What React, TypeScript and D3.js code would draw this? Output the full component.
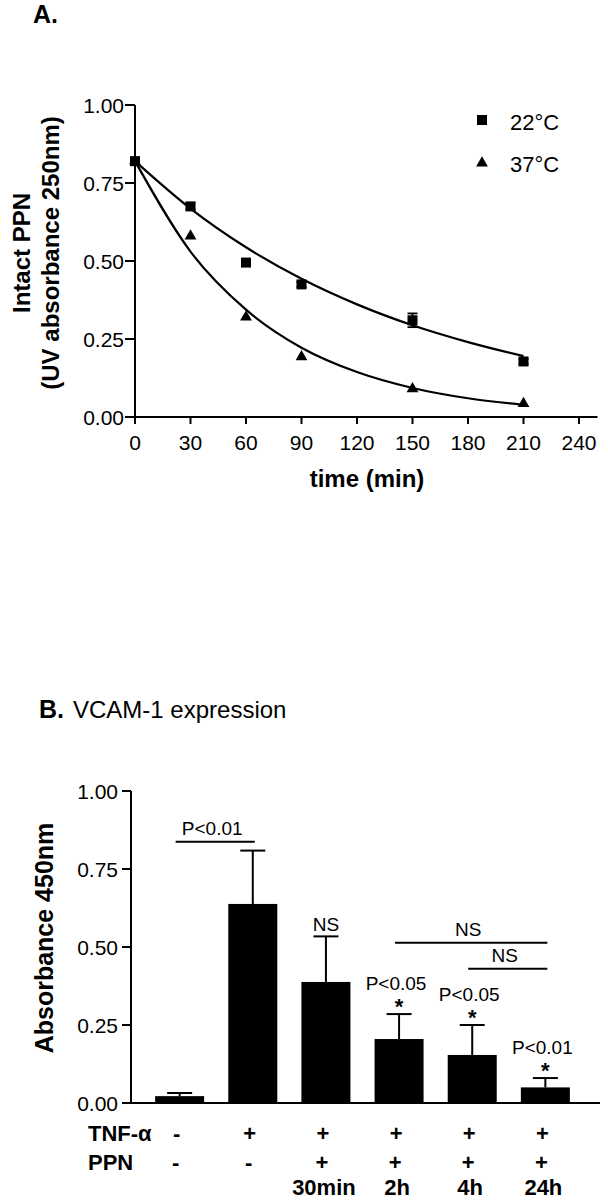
import React from 'react';
import * as d3 from 'd3';

// ---------- Panel A data ----------
const timeMin = [0, 30, 60, 90, 150, 210];
const intact22 = [0.82, 0.675, 0.495, 0.425, 0.31, 0.178];
const intact37 = [0.82, 0.58, 0.32, 0.193, 0.09, 0.043];
const err22 = [0.008, 0.01, 0.008, 0.008, 0.022, 0.008];
const err37 = [0.008, 0.008, 0.008, 0.008, 0.008, 0.006];
const fitTime = [0, 30, 60, 90, 120, 150, 180, 210];
const fit22 = [0.82, 0.668, 0.544, 0.443, 0.361, 0.294, 0.24, 0.195];
const fit37 = [0.82, 0.53, 0.344, 0.222, 0.144, 0.093, 0.06, 0.039];
const xTicksA = [0, 30, 60, 90, 120, 150, 180, 210, 240];
const yTicks = [0, 0.25, 0.5, 0.75, 1.0];
const legendLabels = ['22°C', '37°C'];

// ---------- Panel B data ----------
const groups = ['ctrl', 'TNF', '30min', '2h', '4h', '24h'];
const vcam = [0.022, 0.638, 0.388, 0.205, 0.154, 0.05];
const vcamErr = [0.01, 0.171, 0.146, 0.08, 0.096, 0.03];
const tnfRow = ['-', '+', '+', '+', '+', '+'];
const ppnRow = ['-', '-', '+', '+', '+', '+'];
const timeRow = ['', '', '30min', '2h', '4h', '24h'];
const barSig = ['', '', 'NS', 'P<0.05', 'P<0.05', 'P<0.01'];
const barStar = [false, false, false, true, true, true];
const brackets = [
  { from: 0, to: 1, y: 0.8375, label: 'P<0.01' },
  { from: 3, to: 5, y: 0.514, label: 'NS' },
  { from: 4, to: 5, y: 0.43, label: 'NS' },
];

const FONT = '"Liberation Sans", Arial, Helvetica, sans-serif';

export default function App() {
  // Panel A scales
  const xA = d3.scaleLinear().domain([0, 250]).range([135, 597.5]);
  const yA = d3.scaleLinear().domain([0, 1]).range([417, 105]);
  const lineA = d3
    .line<number>()
    .x((_, i) => xA(fitTime[i]))
    .y((d) => yA(d))
    .curve(d3.curveMonotoneX);

  // Panel B scales
  const xB = d3
    .scaleBand<string>()
    .domain(groups)
    .range([131, 594])
    .paddingInner(0.33)
    .paddingOuter(0.33);
  const yB = d3.scaleLinear().domain([0, 1]).range([1103, 791]);
  const bw = xB.bandwidth();
  const cx = (i: number) => (xB(groups[i]) as number) + bw / 2;

  const sq = 10;
  const tri = d3.symbol().type(d3.symbolTriangle).size(60)() as string;

  return (
    <svg
      width={608}
      height={1200}
      style={{ position: 'absolute', left: 0, top: 0, background: '#fff' }}
      fontFamily={FONT}
    >
      <rect x={0} y={0} width={608} height={1200} fill="#fff" />
      {/* ================= Panel A ================= */}
      <text x={33} y={23} fontSize={25} fontWeight="bold">A.</text>

      {/* y label */}
      <text
        transform="translate(30,253) rotate(-90)"
        textAnchor="middle"
        fontSize={24}
        fontWeight="bold"
      >
        Intact PPN
      </text>
      <text
        transform="translate(59,253) rotate(-90)"
        textAnchor="middle"
        fontSize={24}
        fontWeight="bold"
      >
        (UV absorbance 250nm)
      </text>

      {/* axes */}
      <line x1={xA(0)} x2={xA(0)} y1={yA(0)} y2={yA(1)} stroke="#000" strokeWidth={2} />
      <line x1={xA(0)} x2={xA(250)} y1={yA(0)} y2={yA(0)} stroke="#000" strokeWidth={2} />
      {yTicks.map((t) => (
        <g key={'ya' + t}>
          <line x1={xA(0) - 10} x2={xA(0)} y1={yA(t)} y2={yA(t)} stroke="#000" strokeWidth={2} />
          <text x={124} y={yA(t)} dy="0.36em" textAnchor="end" fontSize={21}>
            {t.toFixed(2)}
          </text>
        </g>
      ))}
      {xTicksA.map((t) => (
        <g key={'xa' + t}>
          <line x1={xA(t)} x2={xA(t)} y1={yA(0)} y2={yA(0) + 7} stroke="#000" strokeWidth={2} />
          <text x={xA(t)} y={450} textAnchor="middle" fontSize={21}>
            {t}
          </text>
        </g>
      ))}
      <text x={367} y={487} textAnchor="middle" fontSize={24} fontWeight="bold">
        time (min)
      </text>

      {/* fit curves */}
      <path d={lineA(fit22) as string} fill="none" stroke="#000" strokeWidth={2.2} />
      <path d={lineA(fit37) as string} fill="none" stroke="#000" strokeWidth={2.2} />

      {/* error bars */}
      {timeMin.map((t, i) => (
        <g key={'e22' + i} stroke="#000" strokeWidth={1.8}>
          <line x1={xA(t)} x2={xA(t)} y1={yA(intact22[i] - err22[i])} y2={yA(intact22[i] + err22[i])} />
          <line x1={xA(t) - 5} x2={xA(t) + 5} y1={yA(intact22[i] + err22[i])} y2={yA(intact22[i] + err22[i])} />
          <line x1={xA(t) - 5} x2={xA(t) + 5} y1={yA(intact22[i] - err22[i])} y2={yA(intact22[i] - err22[i])} />
        </g>
      ))}
      {timeMin.map((t, i) => (
        <g key={'e37' + i} stroke="#000" strokeWidth={1.8}>
          <line x1={xA(t)} x2={xA(t)} y1={yA(intact37[i] - err37[i])} y2={yA(intact37[i] + err37[i])} />
        </g>
      ))}

      {/* markers */}
      {timeMin.map((t, i) => (
        <rect
          key={'m22' + i}
          x={xA(t) - sq / 2}
          y={yA(intact22[i]) - sq / 2}
          width={sq}
          height={sq}
          fill="#000"
        />
      ))}
      {timeMin.map((t, i) => (
        <path key={'m37' + i} d={tri} transform={`translate(${xA(t)},${yA(intact37[i])})`} fill="#000" />
      ))}

      {/* legend */}
      <rect x={482 - sq / 2} y={120 - sq / 2} width={sq} height={sq} fill="#000" />
      <text x={510} y={130} fontSize={22}>{legendLabels[0]}</text>
      <path d={tri} transform="translate(482,163)" fill="#000" />
      <text x={510} y={172} fontSize={22}>{legendLabels[1]}</text>

      {/* ================= Panel B ================= */}
      <text x={39} y={718} fontSize={25} fontWeight="bold">B.</text>
      <text x={73} y={718} fontSize={24}>VCAM-1 expression</text>

      <text
        transform="translate(53,938) rotate(-90)"
        textAnchor="middle"
        fontSize={25}
        fontWeight="bold"
      >
        Absorbance 450nm
      </text>

      {/* bars */}
      {groups.map((g, i) => (
        <rect key={'b' + g} x={xB(g)} y={yB(vcam[i])} width={bw} height={yB(0) - yB(vcam[i])} fill="#000" />
      ))}
      {groups.map((g, i) => (
        <g key={'be' + g} stroke="#000" strokeWidth={2}>
          <line x1={cx(i)} x2={cx(i)} y1={yB(vcam[i])} y2={yB(vcam[i] + vcamErr[i])} />
          <line x1={cx(i) - 12.5} x2={cx(i) + 12.5} y1={yB(vcam[i] + vcamErr[i])} y2={yB(vcam[i] + vcamErr[i])} />
        </g>
      ))}

      {/* axes */}
      <line x1={131} x2={131} y1={yB(0)} y2={yB(1)} stroke="#000" strokeWidth={2} />
      <line x1={131} x2={600} y1={yB(0)} y2={yB(0)} stroke="#000" strokeWidth={2} />
      {yTicks.map((t) => (
        <g key={'yb' + t}>
          <line x1={122} x2={131} y1={yB(t)} y2={yB(t)} stroke="#000" strokeWidth={2} />
          <text x={118} y={yB(t)} dy="0.36em" textAnchor="end" fontSize={21}>
            {t.toFixed(2)}
          </text>
        </g>
      ))}

      {/* significance annotations above bars */}
      {groups.map((g, i) => {
        if (!barSig[i]) return null;
        const capY = yB(vcam[i] + vcamErr[i]);
        if (!barStar[i]) {
          return (
            <text key={'s' + g} x={cx(i)} y={capY - 5} textAnchor="middle" fontSize={19}>
              {barSig[i]}
            </text>
          );
        }
        return (
          <g key={'s' + g}>
            <text x={cx(i)} y={capY} textAnchor="middle" fontSize={22} fontWeight="bold">*</text>
            <text x={cx(i) - 3} y={capY - 24} textAnchor="middle" fontSize={19}>
              {barSig[i]}
            </text>
          </g>
        );
      })}

      {/* brackets */}
      {brackets.map((b, k) => {
        const x1 = cx(b.from) - 4;
        const x2 = cx(b.to) + 2;
        return (
          <g key={'br' + k}>
            <line x1={x1} x2={x2} y1={yB(b.y)} y2={yB(b.y)} stroke="#000" strokeWidth={2} />
            <text x={(x1 + x2) / 2 - 3} y={yB(b.y) - 7} textAnchor="middle" fontSize={19}>
              {b.label}
            </text>
          </g>
        );
      })}

      {/* treatment table */}
      <text x={88} y={1141} fontSize={22} fontWeight="bold">TNF-α</text>
      <text x={88} y={1170} fontSize={22} fontWeight="bold">PPN</text>
      {groups.map((g, i) => (
        <g key={'t' + g} fontWeight="bold" textAnchor="middle">
          <text x={cx(i) - 3} y={1141} fontSize={22}>{tnfRow[i]}</text>
          <text x={cx(i) - 4} y={1170} fontSize={22}>{ppnRow[i]}</text>
          <text x={cx(i) - 2} y={1195} fontSize={22}>{timeRow[i]}</text>
        </g>
      ))}
    </svg>
  );
}
